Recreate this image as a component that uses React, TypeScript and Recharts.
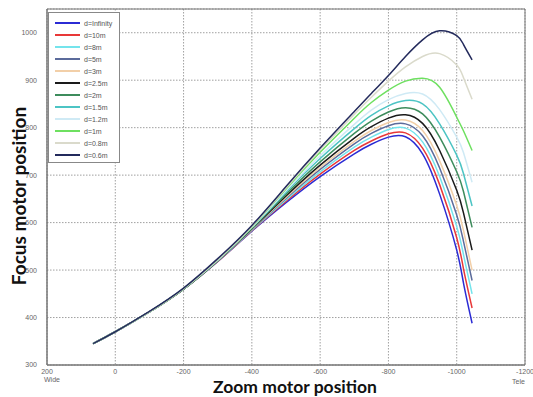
import React from 'react';
import { LineChart, Line, XAxis, YAxis, CartesianGrid, ReferenceArea } from 'recharts';

const zoomPos = [65, 0, -100, -200, -300, -400, -500, -600, -700, -750, -800, -850, -900, -950, -1000, -1020, -1045];

const dInf = [345, 370, 412, 460, 518, 582, 642, 697, 745, 765, 780, 781, 745, 660, 542, 472, 388];
const d10 = [345, 370, 412, 460, 518, 583, 645, 702, 752, 772, 787, 789, 757, 680, 568, 502, 420];
const d8 = [345, 370, 412, 460, 519, 584, 648, 707, 759, 780, 796, 799, 770, 697, 592, 532, 450];
const d5 = [345, 370, 412, 460, 519, 585, 651, 712, 766, 788, 804, 808, 783, 715, 616, 560, 478];
const d3 = [345, 370, 412, 460, 520, 586, 653, 716, 771, 794, 811, 816, 794, 730, 636, 583, 500];
const d25 = [345, 370, 412, 460, 520, 587, 656, 721, 778, 802, 820, 827, 809, 752, 668, 620, 542];
const d2 = [345, 370, 412, 460, 520, 588, 660, 728, 788, 814, 833, 842, 829, 780, 707, 665, 590];
const d15 = [345, 370, 412, 461, 521, 589, 664, 735, 798, 826, 846, 857, 850, 808, 742, 703, 635];
const d12 = [345, 370, 412, 461, 521, 590, 667, 741, 807, 837, 859, 872, 871, 838, 780, 747, 685];
const d1 = [345, 370, 412, 461, 522, 591, 671, 748, 820, 853, 879, 898, 904, 885, 822, 793, 752];
const d08 = [345, 370, 412, 461, 522, 592, 673, 753, 828, 864, 898, 928, 950, 956, 932, 905, 860];
const d06 = [345, 370, 413, 462, 524, 594, 676, 757, 834, 872, 910, 950, 985, 1004, 994, 975, 943];

const seriesNames = ['d=Infinity', 'd=10m', 'd=8m', 'd=5m', 'd=3m', 'd=2.5m', 'd=2m', 'd=1.5m', 'd=1.2m', 'd=1m', 'd=0.8m', 'd=0.6m'];
const seriesValues = [dInf, d10, d8, d5, d3, d25, d2, d15, d12, d1, d08, d06];
const seriesColors = ['#2b2bd4', '#e83838', '#74e4ec', '#5b6b9b', '#f2cfa8', '#1a1a1a', '#3d8c5c', '#4cc4c4', '#cfeaf5', '#6ee060', '#dadacb', '#232a5c'];

const xTicks = [200, 0, -200, -400, -600, -800, -1000, -1200];
const yTicks = [300, 400, 500, 600, 700, 800, 900, 1000];

const data = zoomPos.map((z, i) => {
  const row: Record<string, number> = { zoom: z };
  seriesValues.forEach((vals, s) => {
    row['s' + s] = vals[i];
  });
  return row;
});

const tickStyle = { fontSize: 7, fill: '#666', fontFamily: 'Liberation Sans, Arial, sans-serif' };

export default function App() {
  return (
    <div style={{ position: 'absolute', left: 0, top: 0, width: 533, height: 397, background: '#fff' }}>
      <LineChart width={533} height={397} data={data} margin={{ top: 9, right: 8, bottom: 0, left: 0 }}>
        <CartesianGrid stroke="#888" strokeDasharray="1.5 1.5" strokeWidth={0.8} />
        <XAxis
          dataKey="zoom"
          type="number"
          domain={[-1200, 200]}
          reversed
          ticks={xTicks}
          tick={tickStyle}
          tickLine={false}
          axisLine={{ stroke: '#777' }}
          height={32}
          tickMargin={-2}
          interval={0}
        />
        <YAxis
          type="number"
          domain={[300, 1050]}
          ticks={yTicks}
          tick={tickStyle}
          tickLine={false}
          axisLine={{ stroke: '#777' }}
          width={47}
          tickMargin={4}
          interval={0}
        />
        <ReferenceArea x1={200} x2={-1200} y1={300} y2={1050} fill="none" stroke="#777" strokeWidth={1} />
        {seriesNames.map((n, s) => (
          <Line
            key={n}
            dataKey={'s' + s}
            name={n}
            type="natural"
            stroke={seriesColors[s]}
            strokeWidth={1.5}
            dot={false}
            isAnimationActive={false}
          />
        ))}
      </LineChart>
      <div
        style={{
          position: 'absolute',
          left: 48,
          top: 12,
          width: 72,
          height: 151,
          border: '1px solid #888',
          background: '#fff',
          boxSizing: 'border-box',
          paddingTop: 4,
        }}
      >
        {seriesNames.map((n, s) => (
          <div key={n} style={{ display: 'flex', alignItems: 'center', height: 12, fontSize: 7, fontFamily: 'Liberation Sans, Arial, sans-serif', color: '#555' }}>
            <div style={{ width: 25, height: 2, background: seriesColors[s], marginLeft: 6, marginRight: 4 }} />
            <span>{n}</span>
          </div>
        ))}
      </div>
      <div
        style={{
          position: 'absolute',
          left: 18,
          top: 196,
          transform: 'translate(-50%, -50%) rotate(-90deg)',
          whiteSpace: 'nowrap',
          fontFamily: 'Lato, sans-serif',
          fontWeight: 'bold',
          fontSize: 19,
          color: '#111',
        }}
      >
        Focus motor position
      </div>
      <div
        style={{
          position: 'absolute',
          left: 295,
          top: 386,
          transform: 'translate(-50%, -50%)',
          whiteSpace: 'nowrap',
          fontFamily: 'Lato, sans-serif',
          fontWeight: 'bold',
          fontSize: 17.5,
          color: '#111',
        }}
      >
        Zoom motor position
      </div>
      <div style={{ position: 'absolute', left: 44, top: 376, fontSize: 7, color: '#666', fontFamily: 'Liberation Sans, Arial, sans-serif' }}>Wide</div>
      <div style={{ position: 'absolute', left: 512, top: 378, fontSize: 7, color: '#666', fontFamily: 'Liberation Sans, Arial, sans-serif' }}>Tele</div>
    </div>
  );
}
